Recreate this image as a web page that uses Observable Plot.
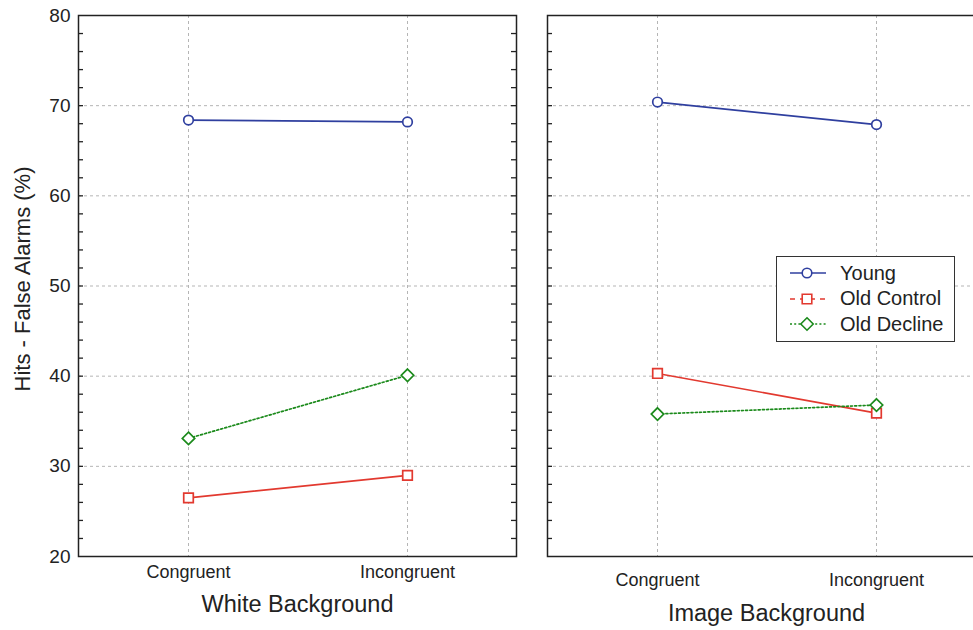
<!DOCTYPE html>
<html>
<head>
<meta charset="utf-8">
<script src="https://cdn.jsdelivr.net/npm/d3@7"></script>
<script src="https://cdn.jsdelivr.net/npm/@observablehq/plot@0.6"></script>
<style>
  html, body { margin: 0; padding: 0; background: white; overflow: hidden; }
  #wrap { position: relative; width: 973px; height: 630px; overflow: hidden; font-family: "Liberation Sans", Arial, Helvetica, sans-serif; }
  #legend { position: absolute; left: 776px; top: 256px; width: 177px; height: 84px; border: 1.5px solid #333; background: white; }
  .row { position: absolute; left: 12px; height: 26px; display: flex; align-items: center; font-size: 20px; color: #222; }
  .row svg { margin-right: 13px; }
</style>
</head>
<body>
<div id="wrap"><div id="chart"></div><div id="legend"></div></div>
<script>
// ---- data ----
const backgrounds = ["White Background", "Image Background"];
const conditions = ["Congruent", "Incongruent"];
const groups = ["Young", "Old Control", "Old Decline"];
// values per background: [Congruent, Incongruent]
const youngValues = [[68.4, 68.2], [70.4, 67.9]];
const oldControlValues = [[26.5, 29.0], [40.3, 35.9]];
const oldDeclineValues = [[33.1, 40.1], [35.8, 36.8]];
const yTickLabels = [20, 30, 40, 50, 60, 70, 80];
const yMinorTicks = [22, 24, 26, 28, 30, 32, 34, 36, 38, 40, 42, 44, 46, 48, 50, 52, 54, 56, 58, 60, 62, 64, 66, 68, 70, 72, 74, 76, 78];
const yGrid = [30, 40, 50, 60, 70];
const yLabel = "Hits - False Alarms (%)";

const colors = {"Young": "#2f3f9f", "Old Control": "#e2392f", "Old Decline": "#1b8a1b"};
const symbols = {"Young": "circle", "Old Control": "square", "Old Decline": "diamond2"};
const radii = {"Young": 4.8, "Old Control": 5.4, "Old Decline": 5.6};
const dashes = {"Young": null, "Old Control": null, "Old Decline": "2,2.2"};
const legendDashes = {"Young": null, "Old Control": "5,5", "Old Decline": "2,2.2"};

const valuesByGroup = {"Young": youngValues, "Old Control": oldControlValues, "Old Decline": oldDeclineValues};
const rows = [];
groups.forEach(g => backgrounds.forEach((bg, bi) => conditions.forEach((c, ci) => {
  rows.push({group: g, bg, cond: c, value: valuesByGroup[g][bi][ci]});
})));

const font = "Liberation Sans, Arial, Helvetica, sans-serif";
const panelW = 438;

const marks = [
  Plot.gridY(yGrid, {stroke: "#b5b5b5", strokeOpacity: 1, strokeDasharray: "3,3"}),
  Plot.gridX(conditions, {stroke: "#b5b5b5", strokeOpacity: 1, strokeDasharray: "3,3"}),
  Plot.tickY(yMinorTicks, {y: d => d, insetRight: panelW - 5, stroke: "#222", strokeWidth: 1.3}),
  Plot.tickY(yMinorTicks, {y: d => d, insetLeft: panelW - 5, stroke: "#222", strokeWidth: 1.3}),
  Plot.frame({stroke: "#222", strokeWidth: 1.5}),
  Plot.axisY(yTickLabels, {tickSize: 0, tickPadding: 8, fontSize: 19, label: null, fill: "#222"}),
  Plot.text([yLabel], {fx: () => backgrounds[0], text: d => d, frameAnchor: "left", textAnchor: "middle", rotate: -90, dx: -56, dy: -7, fontSize: 22, fill: "#222"}),
  Plot.text(conditions.map(c => ({bg: backgrounds[0], cond: c})), {fx: "bg", x: "cond", text: "cond", frameAnchor: "bottom", dy: 21, fontSize: 18, fill: "#222"}),
  Plot.text(conditions.map(c => ({bg: backgrounds[1], cond: c})), {fx: "bg", x: "cond", text: "cond", frameAnchor: "bottom", dy: 29, fontSize: 18, fill: "#222"}),
  Plot.text([backgrounds[0]], {fx: d => d, text: d => d, frameAnchor: "bottom", dy: 55, fontSize: 23.5, fill: "#222"}),
  Plot.text([backgrounds[1]], {fx: d => d, text: d => d, frameAnchor: "bottom", dy: 64, fontSize: 23.5, fill: "#222"})
];
groups.forEach(g => {
  const data = rows.filter(r => r.group === g);
  marks.push(Plot.line(data, {fx: "bg", x: "cond", y: "value", stroke: colors[g], strokeWidth: 1.7, strokeDasharray: dashes[g]}));
});
groups.forEach(g => {
  const data = rows.filter(r => r.group === g);
  marks.push(Plot.dot(data, {fx: "bg", x: "cond", y: "value", symbol: symbols[g], r: radii[g], stroke: colors[g], fill: "white", strokeWidth: 1.7}));
});

const chart = Plot.plot({
  width: 985,
  height: 630,
  marginLeft: 78,
  marginRight: 0,
  marginTop: 15,
  marginBottom: 74,
  style: {fontFamily: font, background: "white", maxWidth: "none", overflow: "hidden"},
  fx: {domain: backgrounds, paddingInner: 31 / 469, paddingOuter: 0, axis: null, label: null},
  x: {domain: conditions, type: "point", padding: 0.5, axis: null},
  y: {domain: [20, 80], axis: null},
  marks
});
document.getElementById("chart").appendChild(chart);

// legend
const legend = document.getElementById("legend");
groups.forEach((g, i) => {
  const row = document.createElement("div");
  row.className = "row";
  row.style.top = (3 + i * 25.5) + "px";
  const svg = d3.create("svg").attr("width", 38).attr("height", 20);
  svg.append("line").attr("x1", 1).attr("x2", 37).attr("y1", 10).attr("y2", 10)
    .attr("stroke", colors[g]).attr("stroke-width", 1.6).attr("stroke-dasharray", legendDashes[g]);
  const sym = {circle: d3.symbolCircle, square: d3.symbolSquare, diamond2: d3.symbolDiamond2}[symbols[g]];
  svg.append("path").attr("transform", "translate(18,10)")
    .attr("d", d3.symbol(sym, Math.PI * radii[g] * radii[g])())
    .attr("fill", "white").attr("stroke", colors[g]).attr("stroke-width", 1.6);
  row.appendChild(svg.node());
  const span = document.createElement("span");
  span.textContent = g;
  row.appendChild(span);
  legend.appendChild(row);
});
</script>
</body>
</html>
